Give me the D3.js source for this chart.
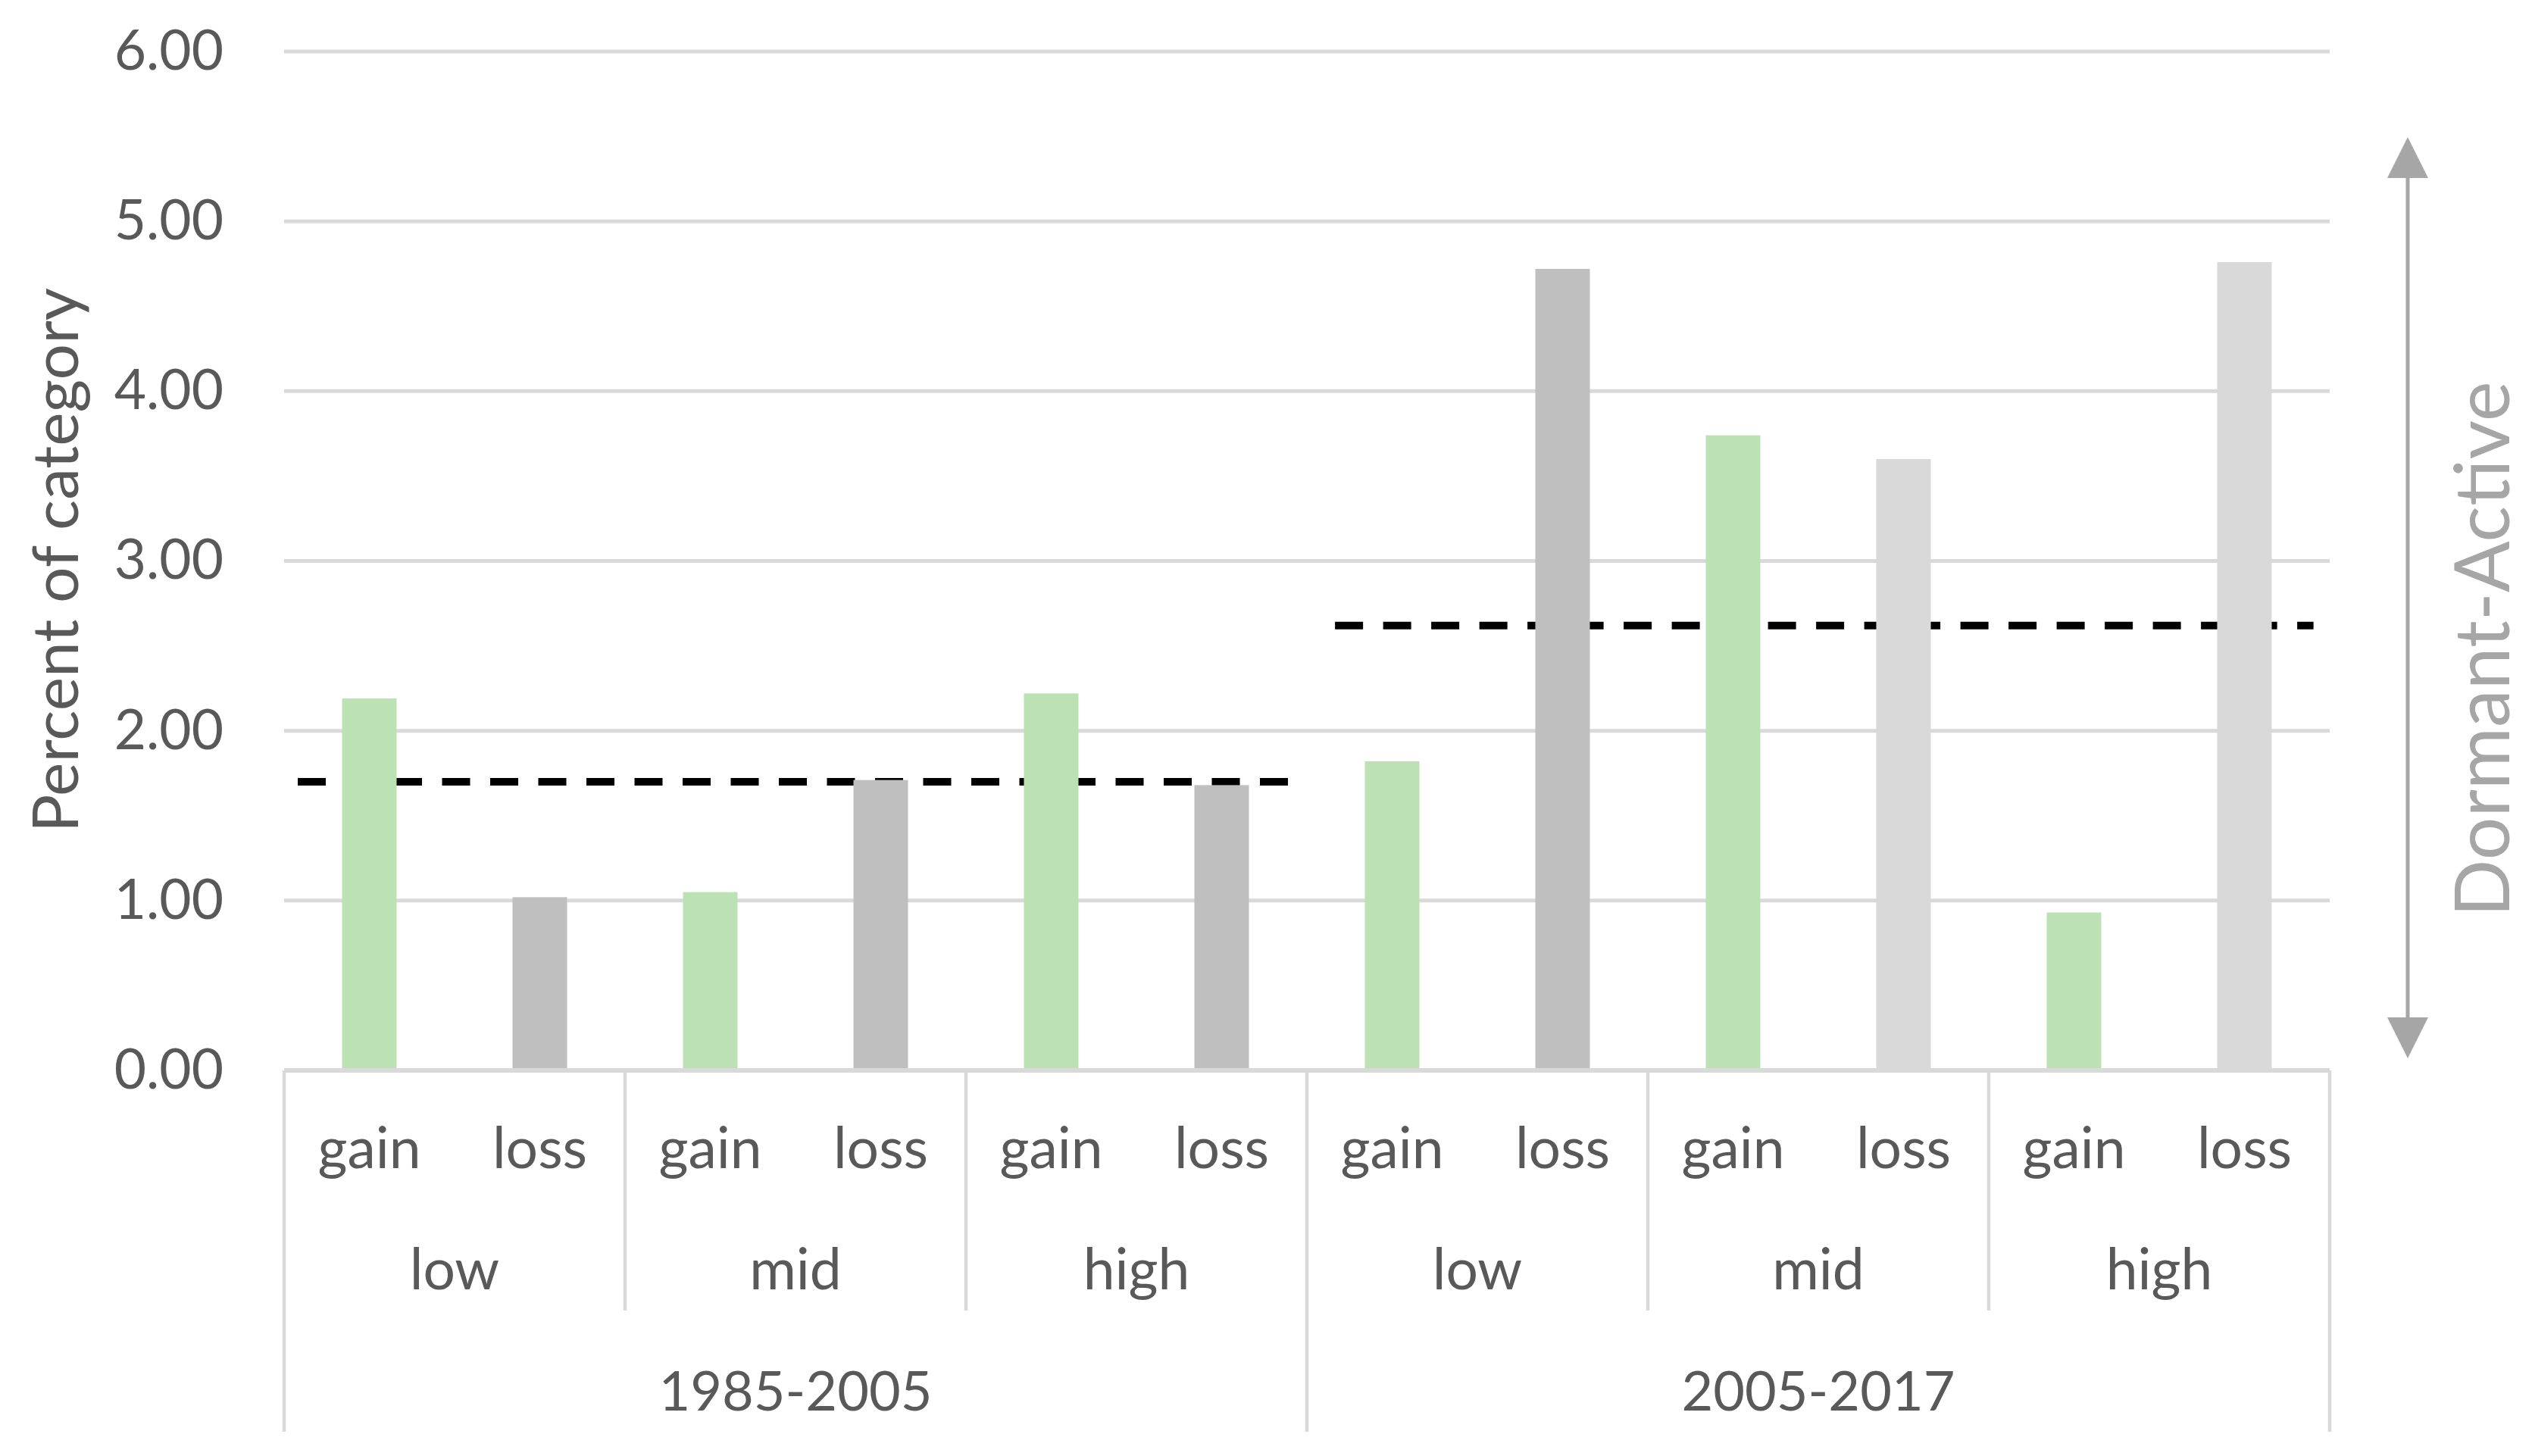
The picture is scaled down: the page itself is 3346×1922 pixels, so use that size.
<!DOCTYPE html>
<html>
<head>
<meta charset="utf-8">
<script src="https://cdn.jsdelivr.net/npm/d3@7"></script>
<style>
  html, body { margin: 0; padding: 0; background: #ffffff; }
  svg { display: block; }
  text { font-family: Lato, "Open Sans", sans-serif; }
</style>
</head>
<body>
<svg id="chart" width="3346" height="1922"></svg>
<script>
// ---------------- data ----------------
const periods = ["1985-2005", "2005-2017"];
const levels = ["low", "mid", "high"];
const types = ["gain", "loss"];
const values1985_2005 = [2.19, 1.02, 1.05, 1.71, 2.22, 1.68];
const values2005_2017 = [1.82, 4.72, 3.74, 3.60, 0.93, 4.76];
const averageValues = [1.70, 2.62];
const averageSpan = [[0.08, 5.90], [6.165, 11.905]]; // in category units
const yTickValues = [0, 1, 2, 3, 4, 5, 6];
const rightAxisLabel = "Dormant-Active";
const yAxisTitle = "Percent of category";

// ---------------- styles ----------------
const gainColor = "#BBE1B4";
const lossColors = ["#BFBFBF", "#BFBFBF", "#BFBFBF", "#BFBFBF", "#D9D9D9", "#D9D9D9"];
const gridColor = "#D9D9D9";
const textColor = "#595959";
const arrowColor = "#A6A6A6";

(function () {
// build rows
const rows = [];
[values1985_2005, values2005_2017].forEach((vals, pi) => {
  levels.forEach((lv, li) => {
    types.forEach((tp, ti) => {
      rows.push({
        period: periods[pi], level: lv, type: tp,
        key: periods[pi] + "|" + lv + "|" + tp,
        value: vals[li * 2 + ti],
        pi, li, ti
      });
    });
  });
});

const svg = d3.select("#chart");
const plotL = 375, plotR = 3075, plotT = 68, plotB = 1413;

const x = d3.scaleBand()
  .domain(rows.map(d => d.key))
  .range([plotL, plotR])
  .paddingInner(0.68)
  .paddingOuter(0.34);

const xu = d3.scaleLinear().domain([0, rows.length]).range([plotL, plotR]);

const y = d3.scaleLinear().domain([0, 6]).range([plotB, plotT]);

// gridlines
svg.append("g")
  .selectAll("line")
  .data(yTickValues.filter(v => v > 0))
  .join("line")
  .attr("x1", plotL).attr("x2", plotR)
  .attr("y1", d => y(d)).attr("y2", d => y(d))
  .attr("stroke", gridColor).attr("stroke-width", 5);

// y axis labels
const yAxis = d3.axisLeft(y)
  .tickValues(yTickValues)
  .tickFormat(d3.format(".2f"))
  .tickSize(0)
  .tickPadding(80);
const gy = svg.append("g").attr("transform", `translate(${plotL},0)`).call(yAxis);
gy.select(".domain").remove();
gy.selectAll("text")
  .attr("fill", textColor)
  .style("font-size", "73px")
  .style("font-family", "Lato, sans-serif");

// average dashed lines (behind bars)
svg.append("g")
  .selectAll("line")
  .data(averageValues)
  .join("line")
  .attr("x1", (d, i) => xu(averageSpan[i][0]))
  .attr("x2", (d, i) => xu(averageSpan[i][1]))
  .attr("y1", d => y(d)).attr("y2", d => y(d))
  .attr("stroke", "#000000")
  .attr("stroke-width", 10)
  .attr("stroke-dasharray", "37,26.5");

// bars
svg.append("g")
  .selectAll("rect")
  .data(rows)
  .join("rect")
  .attr("x", d => x(d.key))
  .attr("width", x.bandwidth())
  .attr("y", d => y(d.value))
  .attr("height", d => y(0) - y(d.value))
  .attr("fill", d => d.type === "gain" ? gainColor : lossColors[d.pi * 3 + d.li]);

// category axis line
svg.append("line")
  .attr("x1", plotL).attr("x2", plotR)
  .attr("y1", plotB).attr("y2", plotB)
  .attr("stroke", gridColor).attr("stroke-width", 6);

// separators
const seps = [];
for (let i = 0; i <= rows.length; i += 2) {
  seps.push({ pos: i, outer: i % 6 === 0 });
}
svg.append("g")
  .selectAll("line")
  .data(seps)
  .join("line")
  .attr("x1", d => xu(d.pos)).attr("x2", d => xu(d.pos))
  .attr("y1", plotB).attr("y2", d => d.outer ? 1890 : 1730)
  .attr("stroke", gridColor).attr("stroke-width", 4.5);

// type labels
svg.append("g")
  .selectAll("text")
  .data(rows)
  .join("text")
  .attr("x", d => x(d.key) + x.bandwidth() / 2)
  .attr("y", 1542)
  .attr("text-anchor", "middle")
  .attr("fill", textColor)
  .style("font-size", "75px")
  .text(d => d.type);

// level labels
const levelRows = [];
periods.forEach((p, pi) => levels.forEach((lv, li) => levelRows.push({ p, lv, idx: pi * 3 + li })));
svg.append("g")
  .selectAll("text")
  .data(levelRows)
  .join("text")
  .attr("x", d => xu(d.idx * 2 + 1))
  .attr("y", 1702)
  .attr("text-anchor", "middle")
  .attr("fill", textColor)
  .style("font-size", "75px")
  .text(d => d.lv);

// period labels
svg.append("g")
  .selectAll("text")
  .data(periods)
  .join("text")
  .attr("x", (d, i) => xu(i * 6 + 3))
  .attr("y", 1862)
  .attr("text-anchor", "middle")
  .attr("fill", textColor)
  .style("font-size", "72px")
  .text(d => d);

// y axis title
svg.append("text")
  .attr("transform", `translate(103, ${(380 + 1099) / 2}) rotate(-90)`)
  .attr("text-anchor", "middle")
  .attr("fill", textColor)
  .style("font-size", "84px")
  .text(yAxisTitle);

// right double arrow
const ax = 3178, tipTop = 181, tipBottom = 1397, headLen = 54, headHalf = 27;
svg.append("line")
  .attr("x1", ax).attr("x2", ax)
  .attr("y1", tipTop + headLen - 2).attr("y2", tipBottom - headLen + 2)
  .attr("stroke", arrowColor).attr("stroke-width", 5);
svg.append("path")
  .attr("d", `M${ax},${tipTop} L${ax + headHalf},${tipTop + headLen} L${ax - headHalf},${tipTop + headLen} Z`)
  .attr("fill", arrowColor);
svg.append("path")
  .attr("d", `M${ax},${tipBottom} L${ax + headHalf},${tipBottom - headLen} L${ax - headHalf},${tipBottom - headLen} Z`)
  .attr("fill", arrowColor);

svg.append("text")
  .attr("transform", `translate(3312, 857) rotate(-90)`)
  .attr("text-anchor", "middle")
  .attr("fill", arrowColor)
  .style("font-size", "100px")
  .text(rightAxisLabel);
})();
</script>
</body>
</html>
